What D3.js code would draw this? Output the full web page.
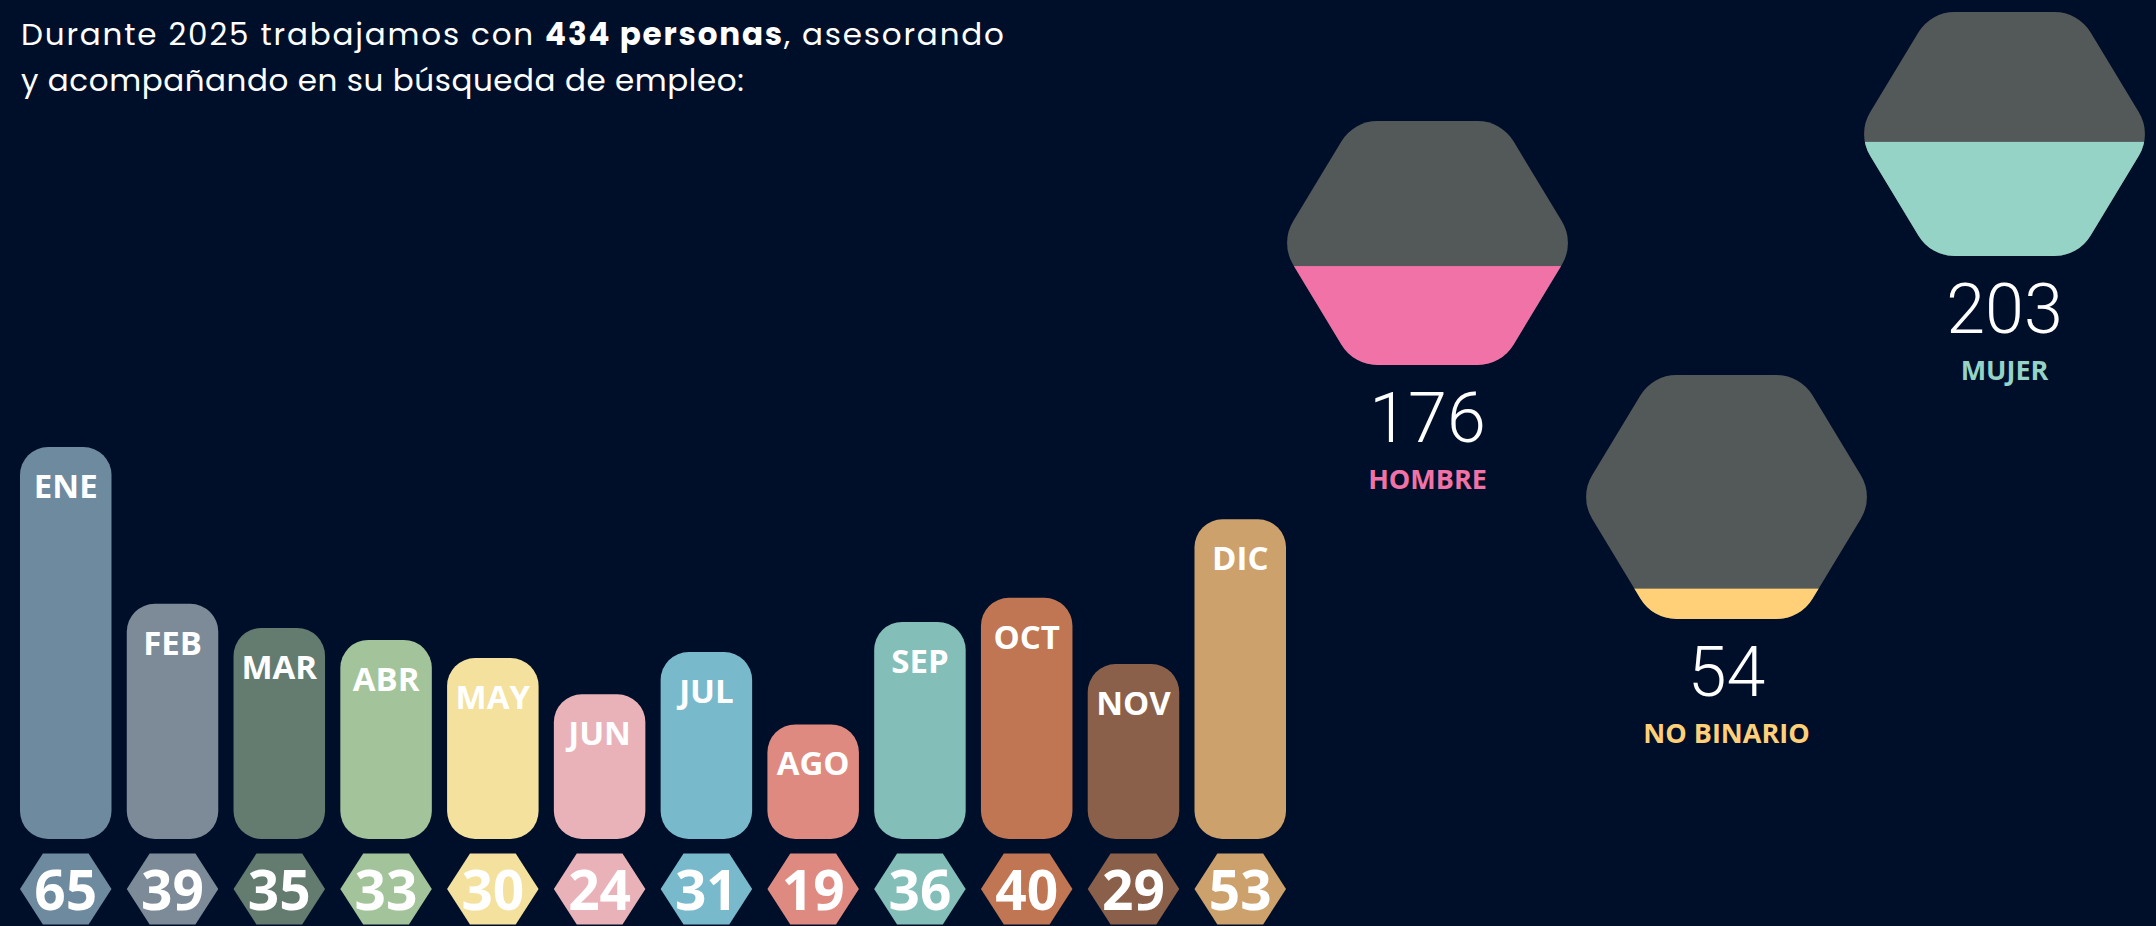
<!DOCTYPE html>
<html><head><meta charset="utf-8">
<script src="https://cdn.jsdelivr.net/npm/d3@7"></script>
<style>html,body{margin:0;padding:0;background:#000f29;overflow:hidden} svg{display:block}</style>
</head><body>
<svg id="chart" width="2156" height="926"></svg>
<script>
// ---------- data ----------
const months = ["ENE","FEB","MAR","ABR","MAY","JUN","JUL","AGO","SEP","OCT","NOV","DIC"];
const monthValues = [65,39,35,33,30,24,31,19,36,40,29,53];
const monthColors = ["#6e8a9e","#7d8b98","#647b70","#a3c49a","#f3e19d","#e9b2b8","#79b9cc","#df8a80","#84beb9","#c07553","#8a604a","#cda16c"];
const genderLabels = ["HOMBRE","NO BINARIO","MUJER"];
const genderValues = [176,54,203];
const genderColors = ["#f072a7","#ffd078","#95d3c7"];
const totalPersons = 434;
const titleLine1 = [["Durante 2025 trabajamos con ", false], [totalPersons + " personas", true], [", asesorando", false]];
const titleLine2 = [["y acompañando en su búsqueda de empleo:", false]];

// ---------- layout ----------
const W = 2156, H = 926;
const bg = "#000f29", hexGray = "#535859";
const svg = d3.select("#chart");
svg.append("rect").attr("width", W).attr("height", H).attr("fill", bg);

// title
const titleSpecs = [{parts: titleLine1, y: 45, width: 983}, {parts: titleLine2, y: 91, width: 723}];
titleSpecs.forEach(spec => {
  const t = svg.append("text").attr("x", 21).attr("y", spec.y)
    .attr("font-family", "'Poppins','Open Sans',sans-serif").attr("font-size", 31)
    .attr("fill", "#ffffff");
  spec.parts.forEach(([s, b]) => t.append("tspan").attr("font-weight", b ? 700 : 400).text(s));
  const n = spec.parts.map(p => p[0]).join("").length;
  const w = t.node().getComputedTextLength();
  t.attr("letter-spacing", ((spec.width - w) / (n - 1)).toFixed(2));
});

// month bars
const baseY = 839;
const x = d3.scaleBand().domain(months).range([20, 1286]).paddingInner(0.143).paddingOuter(0);
const y = d3.scaleLinear().domain([0, 65]).range([baseY, 447]);
const bw = x.bandwidth();
const monthData = months.map((m, i) => ({m, v: monthValues[i], c: monthColors[i]}));

const bars = svg.append("g");
bars.selectAll("rect").data(monthData).join("rect")
  .attr("x", d => x(d.m)).attr("y", d => y(d.v))
  .attr("width", bw).attr("height", d => baseY - y(d.v))
  .attr("rx", 28).attr("ry", 28).attr("fill", d => d.c);

bars.selectAll("text").data(monthData).join("text")
  .attr("x", d => x(d.m) + bw / 2).attr("y", d => y(d.v) + 51)
  .attr("text-anchor", "middle").attr("font-family", "'Open Sans',sans-serif")
  .attr("font-weight", 700).attr("font-size", 33).attr("fill", "#ffffff")
  .text(d => d.m);

// value hexagons
const hexCy = 889, hexHH = 35.5;
const hexPts = (cx, cy, hw, hh) => [[cx - hw, cy], [cx - hw / 2, cy - hh], [cx + hw / 2, cy - hh], [cx + hw, cy], [cx + hw / 2, cy + hh], [cx - hw / 2, cy + hh]];
const vals = svg.append("g");
vals.selectAll("path").data(monthData).join("path")
  .attr("d", d => d3.line()(hexPts(x(d.m) + bw / 2, hexCy, bw / 2, hexHH)) + "Z")
  .attr("fill", d => d.c);
vals.selectAll("text").data(monthData).join("text")
  .attr("x", d => x(d.m) + bw / 2).attr("y", 910)
  .attr("text-anchor", "middle").attr("font-family", "'Open Sans',sans-serif")
  .attr("font-weight", 700).attr("font-size", 55).attr("fill", "#ffffff")
  .text(d => d.v);

// gender hexagons
const gCenters = [[1427.5, 243], [1726.5, 497], [2004.5, 134]];
const gHH = 122, gHW = 147.5, gR = 42;
const fillH = d3.scaleLinear().domain([0, totalPersons]).range([0, 2 * gHH]);

function roundedPath(pts, r) {
  const p = d3.path();
  const n = pts.length;
  const mid = (a, b) => [(a[0] + b[0]) / 2, (a[1] + b[1]) / 2];
  const start = mid(pts[n - 1], pts[0]);
  p.moveTo(start[0], start[1]);
  for (let i = 0; i < n; i++) {
    const cur = pts[i], nxt = pts[(i + 1) % n];
    p.arcTo(cur[0], cur[1], nxt[0], nxt[1], r);
  }
  p.closePath();
  return p.toString();
}

const defs = svg.append("defs");
const genderData = genderLabels.map((l, i) => ({l, v: genderValues[i], c: genderColors[i], cx: gCenters[i][0], cy: gCenters[i][1], i}));
genderData.forEach(d => {
  const pathD = roundedPath(hexPts(d.cx, d.cy, gHW, gHH), gR);
  defs.append("clipPath").attr("id", "gclip" + d.i).append("path").attr("d", pathD);
  const g = svg.append("g");
  g.append("path").attr("d", pathD).attr("fill", hexGray);
  const h = fillH(d.v);
  g.append("rect").attr("clip-path", `url(#gclip${d.i})`)
    .attr("x", d.cx - gHW - 2).attr("width", 2 * gHW + 4)
    .attr("y", d.cy + gHH - h).attr("height", h).attr("fill", d.c);
  g.append("text").attr("x", d.cx).attr("y", d.cy + gHH + 77)
    .attr("text-anchor", "middle").attr("font-family", "Roboto,'Open Sans',sans-serif")
    .attr("font-weight", 300).attr("font-size", 70).attr("fill", "#ffffff").text(d.v);
  g.append("text").attr("x", d.cx).attr("y", d.cy + gHH + 124)
    .attr("text-anchor", "middle").attr("font-family", "'Open Sans',sans-serif")
    .attr("font-weight", 700).attr("font-size", 27).attr("fill", d.c).text(d.l);
});
</script>
</body></html>
